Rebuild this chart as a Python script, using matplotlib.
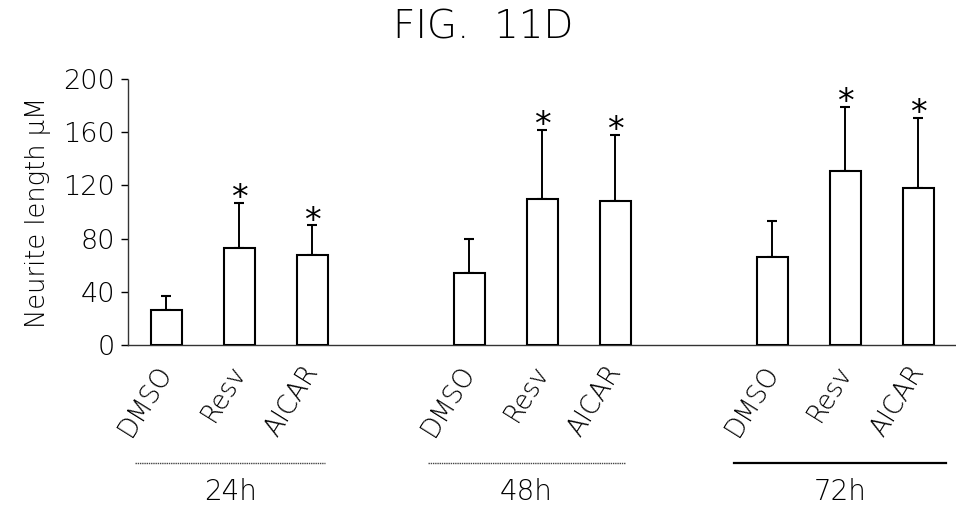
import numpy as np
import matplotlib
matplotlib.use("Agg")
from matplotlib import pyplot as plt
import matplotlib.transforms as mtransforms

# values
groups = ["24h", "48h", "72h"]
treatments = ["DMSO", "Resv", "AICAR"]
means = [[26, 73, 68],
         [54, 110, 108],
         [66, 131, 118]]
errors = [[11, 34, 22],
          [26, 52, 50],
          [27, 48, 53]]
significant = [[False, True, True],
               [False, True, True],
               [False, True, True]]

plt.rcParams['font.family'] = ['DejaVu Sans']
plt.rcParams['font.weight'] = 'light'
plt.rcParams['axes.labelweight'] = 'light'

group_offsets = [0, 4.15, 8.3]
# span of the underline below each group, relative to the group start
line_spans = [(-0.42, 2.18), (-0.57, 2.13), (-0.52, 2.38)]
line_styles = [dict(color='#444444', lw=1.0, ls=(0, (1, 0.6))),
               dict(color='#444444', lw=1.0, ls=(0, (1, 0.6))),
               dict(color='black', lw=1.6, ls='-')]

fig = plt.figure(figsize=(9.56, 5.18), dpi=100)
ax = fig.add_axes([0.1336, 0.334, 0.866, 0.5135])

xs, ys, es, labels, stars = [], [], [], [], []
for g, off in enumerate(group_offsets):
    for i, t in enumerate(treatments):
        xs.append(off + i)
        ys.append(means[g][i])
        es.append(errors[g][i])
        labels.append(t)
        stars.append(significant[g][i])
xs = np.array(xs)
ys = np.array(ys)
es = np.array(es)

ax.bar(xs, ys, width=0.425, color='white', edgecolor='black', linewidth=1.5, zorder=3)
ax.errorbar(xs, ys, yerr=[np.zeros_like(es), es], fmt='none', ecolor='black',
            elinewidth=1.4, capsize=3.5, capthick=1.5, zorder=2)
for x, y, e, s in zip(xs, ys, es, stars):
    if s:
        ax.annotate('*', (x, y + e), xytext=(0, 3), textcoords='offset points',
                    ha='center', va='center', fontsize=24, fontweight='normal')

ax.set_xlim(-0.525, 10.81)
ax.set_ylim(0, 200)
ax.set_yticks([0, 40, 80, 120, 160, 200])
ax.set_xticks(xs)
ax.set_xticklabels(labels, rotation=58, ha='right', va='top', fontsize=18.5)
ax.tick_params(axis='x', length=0, pad=11)
ax.tick_params(axis='y', length=5, width=1, labelsize=19.5, pad=4)
shift = mtransforms.ScaledTranslation(8 / 72, 0, fig.dpi_scale_trans)
for lab in ax.get_xticklabels():
    lab.set_transform(lab.get_transform() + shift)

for side in ['top', 'right']:
    ax.spines[side].set_visible(False)
for side in ['left', 'bottom']:
    ax.spines[side].set_linewidth(1.0)
    ax.spines[side].set_linestyle((0, (2, 1)))
    ax.spines[side].set_color('#333333')

ax.set_ylabel('Neurite length \u03bcM', fontsize=18.5, labelpad=9)

trans = mtransforms.blended_transform_factory(ax.transData, ax.transAxes)
for off, name, span, st in zip(group_offsets, groups, line_spans, line_styles):
    x0, x1 = off + span[0], off + span[1]
    ax.plot([x0, x1], [-0.444, -0.444], transform=trans, clip_on=False, **st)
    ax.text((x0 + x1) / 2, -0.553, name, transform=trans, ha='center',
            va='center', fontsize=20)

fig.text(0.505, 0.947, 'FIG.  11D', ha='center', va='center', fontsize=28)

fig.savefig('out.png', dpi=100)
